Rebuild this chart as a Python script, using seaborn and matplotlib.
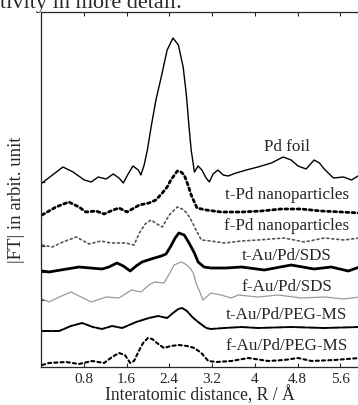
import matplotlib
matplotlib.use("Agg")
import matplotlib.pyplot as plt
import seaborn as sns
import pandas as pd

# EXAFS |FT| curves (offset arbitrary units)
r_pd_foil = [0.02, 0.19, 0.41, 0.60, 0.81, 0.94, 1.07, 1.22, 1.35, 1.46, 1.54, 1.63, 1.72,
             1.82, 1.87, 1.93, 1.99, 2.06, 2.15, 2.25, 2.36, 2.47, 2.57, 2.66, 2.72, 2.77,
             2.81, 2.87, 2.94, 3.01, 3.09, 3.15, 3.22, 3.31, 3.41, 3.50, 3.65, 3.84, 4.06,
             4.31, 4.53, 4.68, 4.81, 4.96, 5.11, 5.21, 5.30, 5.47, 5.66, 5.81, 5.96]
ft_pd_foil = [184, 191, 200, 195, 187, 185, 190, 188, 193, 189, 184, 193, 201, 197, 192,
              202, 217, 240, 267, 290, 317, 329, 322, 300, 272, 240, 217, 195, 201, 197,
              189, 185, 193, 197, 192, 191, 194, 197, 200, 204, 210, 207, 201, 198, 207,
              204, 198, 189, 190, 187, 192]

r_t_pd = [0.02, 0.28, 0.52, 0.71, 0.84, 1.03, 1.18, 1.35, 1.46, 1.61, 1.84, 2.02, 2.15,
          2.27, 2.36, 2.43, 2.55, 2.62, 2.68, 2.75, 2.81, 2.92, 3.09, 3.37, 3.75, 4.12,
          4.49, 4.87, 5.24, 5.62, 5.96]
ft_t_pd = [152, 160, 165, 160, 155, 156, 153, 157, 159, 155, 162, 164, 167, 174, 180,
           187, 196, 195, 192, 182, 172, 159, 157, 155, 155, 156, 158, 158, 156, 155, 154]

r_f_pd = [0.02, 0.21, 0.41, 0.66, 0.90, 1.12, 1.31, 1.59, 1.74, 1.84, 1.95, 2.06, 2.17,
          2.27, 2.40, 2.55, 2.64, 2.73, 2.83, 2.90, 3.00, 3.18, 3.43, 3.75, 4.06, 4.55,
          4.93, 5.30, 5.67, 5.96]
ft_f_pd = [122, 120, 125, 130, 123, 126, 124, 124, 122, 134, 143, 147, 143, 140, 152,
           160, 158, 154, 145, 137, 127, 126, 124, 126, 127, 129, 125, 129, 127, 129]

r_t_sds = [0.02, 0.15, 0.37, 0.71, 1.14, 1.27, 1.42, 1.54, 1.67, 1.78, 1.89, 2.06, 2.25,
           2.34, 2.43, 2.51, 2.58, 2.68, 2.77, 2.87, 2.94, 3.05, 3.18, 3.46, 3.75, 4.18,
           4.68, 5.11, 5.43, 5.75, 5.96]
ft_t_sds = [96, 95, 97, 100, 98, 100, 104, 101, 96, 101, 105, 108, 111, 113, 121, 129,
            134, 132, 124, 114, 105, 100, 99, 99, 100, 97, 102, 98, 100, 96, 100]

r_f_sds = [0.02, 0.15, 0.34, 0.56, 0.75, 0.94, 1.22, 1.46, 1.69, 1.87, 2.02, 2.12, 2.30,
           2.40, 2.49, 2.62, 2.70, 2.79, 2.85, 2.90, 2.98, 3.03, 3.18, 3.37, 3.56, 3.69,
           4.06, 4.44, 4.87, 5.30, 5.67, 5.96]
ft_f_sds = [68, 65, 70, 75, 70, 65, 70, 69, 77, 75, 82, 85, 84, 93, 102, 105, 103, 99, 94,
            84, 74, 67, 74, 72, 69, 72, 70, 72, 69, 70, 68, 70]

r_t_peg = [0.02, 0.34, 0.56, 0.77, 0.97, 1.14, 1.33, 1.52, 1.65, 1.78, 2.02, 2.19, 2.36,
           2.47, 2.57, 2.64, 2.73, 2.83, 2.94, 3.09, 3.18, 3.43, 3.75, 4.06, 4.68, 5.30, 5.96]
ft_t_peg = [36, 36, 41, 44, 40, 38, 41, 39, 42, 45, 49, 51, 49, 54, 58, 59, 56, 50, 45,
            39, 38, 39, 40, 39, 40, 39, 40]

r_f_peg = [0.02, 0.15, 0.47, 0.71, 0.96, 1.18, 1.33, 1.46, 1.57, 1.67, 1.74, 1.84, 1.91,
           2.00, 2.08, 2.17, 2.30, 2.43, 2.58, 2.73, 2.87, 3.00, 3.13, 3.28, 3.56, 3.88,
           4.25, 4.55, 4.81, 5.06, 5.49, 5.96]
ft_f_peg = [2, 4, 5, 3, 6, 4, 10, 14, 12, 4, 6, 17, 24, 29, 28, 24, 19, 21, 22, 21, 19,
            14, 6, 5, 6, 9, 6, 7, 9, 6, 7, 9]

sample_names = ["Pd foil", "t-Pd nanoparticles", "f-Pd nanoparticles", "t-Au/Pd/SDS",
                "f-Au/Pd/SDS", "t-Au/Pd/PEG-MS", "f-Au/Pd/PEG-MS"]
label_heights = [220, 172, 141, 111, 80, 52, 21]
baseline_ticks = [36, 67, 95, 121, 154, 185]
x_ticks = [0.8, 1.6, 2.4, 3.2, 4.0, 4.8, 5.6]
x_ticklabels = ["0.8", "1.6", "2.4", "3.2", "4", "4.8", "5.6"]

sns.set_theme(style="ticks")
plt.rcParams["font.family"] = ["Liberation Serif", "DejaVu Serif"]

fig = plt.figure(figsize=(3.58, 4.05), dpi=100)
ax = fig.add_axes([41 / 358, 38 / 405, 318 / 358, 355 / 405])

curves = [
    (r_pd_foil, ft_pd_foil, dict(color="black", linewidth=1.0)),
    (r_t_pd, ft_t_pd, dict(color="black", linewidth=2.0, dashes=(1, 1.2))),
    (r_f_pd, ft_f_pd, dict(color="#555555", linewidth=1.2, dashes=(1.2, 1.8))),
    (r_t_sds, ft_t_sds, dict(color="black", linewidth=2.0)),
    (r_f_sds, ft_f_sds, dict(color="#9a9a9a", linewidth=0.9)),
    (r_t_peg, ft_t_peg, dict(color="black", linewidth=1.4, dashes=(5, 0.8))),
    (r_f_peg, ft_f_peg, dict(color="black", linewidth=1.5, dashes=(1.5, 1.5))),
]
for r, ft, style in curves:
    df = pd.DataFrame({"R": r, "FT": ft})
    dashes = style.pop("dashes", None)
    line_ax = sns.lineplot(data=df, x="R", y="FT", ax=ax, sort=False,
                           estimator=None, **style)
    if dashes is not None:
        line_ax.lines[-1].set_dashes(dashes)
        line_ax.lines[-1].set_dash_capstyle("round")

for name, h in zip(sample_names, label_heights):
    ax.text(4.6, h, name, ha="center", va="center", fontsize=12.3)

ax.set_xlim(0, 5.95)
ax.set_ylim(0, 355)
ax.set_xticks(x_ticks)
ax.set_xticklabels(x_ticklabels, fontsize=11)
ax.set_yticks(baseline_ticks)
ax.set_yticklabels([])
ax.tick_params(axis="x", direction="in", top=True, length=3, width=0.8, pad=4)
ax.tick_params(axis="y", direction="in", length=3, width=0.8)
for side in ["left", "bottom", "top"]:
    ax.spines[side].set_linewidth(0.9)
ax.spines["right"].set_visible(False)
ax.set_xlabel("Interatomic distance, R / Å", fontsize=12.7, labelpad=0)
ax.set_ylabel("|FT| in arbit. unit", fontsize=13.5)
ax.yaxis.set_label_coords(-0.05, 0.47)

# fragment of the surrounding page text at the top edge
fig.text(0.0, 1 - 8 / 405, "tivity in more detail.", fontsize=16,
         ha="left", va="baseline")

fig.savefig("out.png", dpi=100)
